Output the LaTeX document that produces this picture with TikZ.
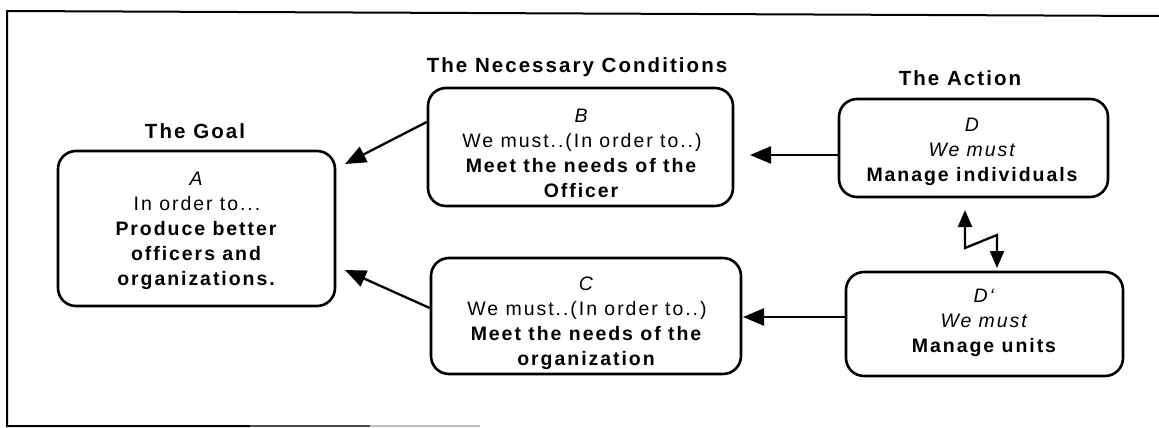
\documentclass[tikz,border=0pt]{standalone}
\usepackage{fontspec}
\setmainfont{Liberation Sans}[LetterSpace=10]
\usetikzlibrary{arrows.meta}
\begin{document}
\begin{tikzpicture}[x=1pt,y=-1pt,
  box/.style={draw, line width=2.6pt, rounded corners=18pt, inner sep=0pt},
  txt/.style={align=center, inner sep=0pt, font=\fontsize{19.5}{25}\selectfont},
  ttl/.style={inner sep=0pt, font=\fontsize{20.5}{25}\selectfont\bfseries},
  arr/.style={line width=2.3pt, -{Triangle[length=21pt,width=17pt]}},
  swap/.style={line width=2.3pt, line join=miter,
    {Triangle[length=17pt,width=14pt]}-{Triangle[length=17pt,width=14pt]}},
  frame/.style={line width=2pt}
]
\useasboundingbox (0,0) rectangle (1159,428);

% outer frame
\draw[frame] (1159,16) -- (7,11) -- (7,426) -- (250,426);
\draw[frame, black!70] (250,426) -- (370,426);
\draw[frame, black!25] (370,426) -- (480,426);

% column titles
\node[ttl] (tGoal) at (195,131) {The Goal};
\node[ttl] (tCond) at (577,67) {The Necessary Conditions};
\node[ttl] (tAct)  at (960,78) {The Action};

% boxes
\node[box, minimum width=277pt, minimum height=155pt] (A)  at (196.5,228.5) {};
\node[box, minimum width=305pt, minimum height=118pt] (B)  at (580.5,147) {};
\node[box, minimum width=310pt, minimum height=116pt] (C)  at (586,316) {};
\node[box, minimum width=269pt, minimum height=98pt]  (D)  at (973.5,148) {};
\node[box, minimum width=277pt, minimum height=104pt] (Dp) at (984.5,324) {};

% box texts
\node[txt] (Atext) at (197,231) {\textit{A}\\In order to...\\\textbf{Produce better}\\\textbf{officers and}\\\textbf{organizations.}};
\node[txt] (Btext) at (582,153) {\textit{B}\\We must..(In order to..)\\\textbf{Meet the needs of the}\\\textbf{Officer}};
\node[txt] (Ctext) at (587,323) {\textit{C}\\We must..(In order to..)\\\textbf{Meet the needs of the}\\\textbf{organization}};
\node[txt] (Dtext) at (973,152) {\textit{D}\\\textit{We must}\\\textbf{Manage individuals}};
\node[txt] (Dptext) at (985,323) {\textit{D‘}\\\textit{We must}\\\textbf{Manage units}};

% arrow tips
\coordinate (tipBA) at (345,164);
\coordinate (tipCA) at (345,270);
\coordinate (tipDB) at (750,155);
\coordinate (tipDC) at (743,317);
\coordinate (zzTop) at (965,210);
\coordinate (zzA)   at (965,248);
\coordinate (zzB)   at (997,235);
\coordinate (zzBot) at (997,268);

% connectors
\draw[arr] ([yshift=25pt]B.west) -- (tipBA);
\draw[arr] ([yshift=8pt]C.west) -- (tipCA);
\draw[arr] ([yshift=-7pt]D.west) -- (tipDB);
\draw[arr] ([yshift=7pt]Dp.west) -- (tipDC);
\draw[swap] (zzTop) -- (zzA) -- (zzB) -- (zzBot);
\end{tikzpicture}
\end{document}
